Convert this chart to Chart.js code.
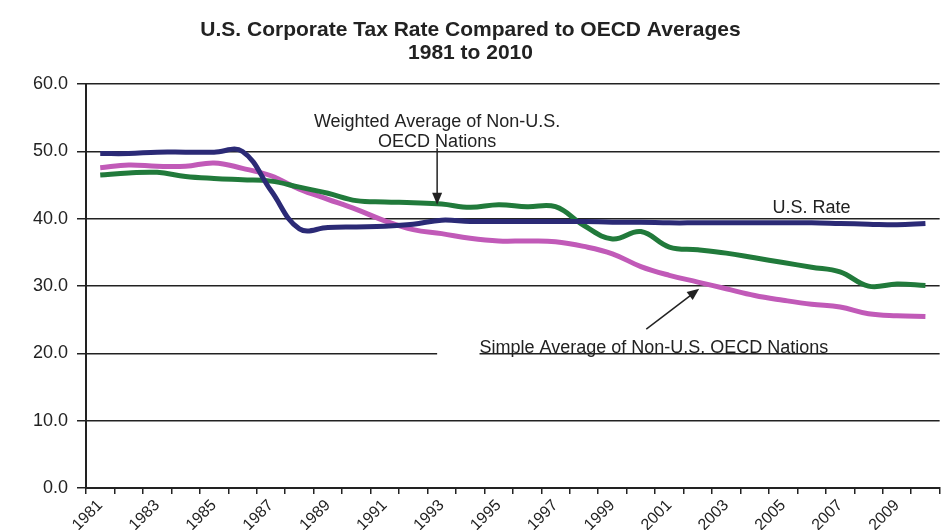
<!DOCTYPE html>
<html>
<head>
<meta charset="utf-8">
<script src="https://cdn.jsdelivr.net/npm/chart.js@4.4.0/dist/chart.umd.min.js"></script>
<style>
    html, body { margin: 0; padding: 0; background: #fff; }
</style>
</head>
<body>
<canvas id="tax-chart" width="941" height="530"></canvas>
<script>
const years = ["1981", "1982", "1983", "1984", "1985", "1986", "1987", "1988", "1989", "1990",
               "1991", "1992", "1993", "1994", "1995", "1996", "1997", "1998", "1999", "2000",
               "2001", "2002", "2003", "2004", "2005", "2006", "2007", "2008", "2009", "2010"];

// U.S. combined corporate rate
const usRate = [49.7, 49.7, 49.9, 49.9, 49.9, 50.0, 44.2, 38.5, 38.7, 38.8,
                38.9, 39.2, 39.8, 39.6, 39.6, 39.6, 39.6, 39.6, 39.5, 39.5,
                39.4, 39.4, 39.4, 39.4, 39.4, 39.4, 39.3, 39.2, 39.1, 39.3];

// weighted average of non-U.S. OECD nations
const weightedAvg = [46.5, 46.8, 46.9, 46.3, 46.0, 45.8, 45.6, 44.7, 43.8, 42.7,
                     42.5, 42.4, 42.2, 41.7, 42.1, 41.8, 41.8, 39.0, 37.0, 38.1,
                     35.8, 35.4, 34.9, 34.2, 33.5, 32.8, 32.1, 30.0, 30.3, 30.1];

// simple average of non-U.S. OECD nations
const simpleAvg = [47.6, 48.0, 47.8, 47.8, 48.3, 47.5, 46.4, 44.4, 42.9, 41.4,
                   39.7, 38.4, 37.8, 37.1, 36.7, 36.7, 36.6, 35.9, 34.8, 32.9,
                   31.6, 30.6, 29.6, 28.6, 27.9, 27.3, 26.9, 25.9, 25.6, 25.5];

const yTickValues = [0, 10, 20, 30, 40, 50, 60];

const FONT = '"Liberation Sans", Arial, Helvetica, sans-serif';
const INK = "#222";

function arrow(ctx, x1, y1, x2, y2) {
    const ang = Math.atan2(y2 - y1, x2 - x1);
    const len = 12, half = 5;
    ctx.beginPath();
    ctx.moveTo(x1, y1);
    ctx.lineTo(x2 - Math.cos(ang) * len * 0.8, y2 - Math.sin(ang) * len * 0.8);
    ctx.stroke();
    ctx.beginPath();
    ctx.moveTo(x2, y2);
    ctx.lineTo(x2 - Math.cos(ang) * len - Math.sin(ang) * half, y2 - Math.sin(ang) * len + Math.cos(ang) * half);
    ctx.lineTo(x2 - Math.cos(ang) * len + Math.sin(ang) * half, y2 - Math.sin(ang) * len - Math.cos(ang) * half);
    ctx.closePath();
    ctx.fill();
}

// text labels and arrows, placed in data units (category index, percent)
const notesPlugin = {
    id: "notes",
    afterDatasetsDraw(chart) {
        const ctx = chart.ctx;
        const px = v => chart.scales.x.getPixelForValue(v);
        const py = v => chart.scales.y.getPixelForValue(v);
        ctx.save();
        ctx.fillStyle = INK;
        ctx.strokeStyle = INK;
        ctx.lineWidth = 1.5;
        ctx.font = "18px " + FONT;
        ctx.textBaseline = "alphabetic";

        // weighted average label
        ctx.textAlign = "center";
        ctx.fillText("Weighted Average of Non-U.S.", px(11.84), py(53.6));
        ctx.fillText("OECD Nations", px(11.84), py(50.7));
        arrow(ctx, px(11.84), py(50.5), px(11.84), py(42.1));

        // U.S. rate label
        ctx.fillText("U.S. Rate", px(25.0), py(40.8));

        // simple average label (white patch over the gridline)
        ctx.fillStyle = "#fff";
        ctx.fillRect(px(11.84), py(23.5), px(13.33) - px(11.84), py(19.4) - py(23.5));
        ctx.fillStyle = INK;
        ctx.textAlign = "left";
        ctx.fillText("Simple Average of Non-U.S. OECD Nations", px(13.33), py(20.05));
        arrow(ctx, px(19.19), py(23.6), px(21.05), py(29.6));
        ctx.restore();
    }
};

const ctx_tax = document.getElementById("tax-chart").getContext("2d");
const tax_chart = new Chart(ctx_tax, {
    type: "line",
    data: {
        labels: years,
        datasets: [
            {
                label: "U.S. Rate",
                data: usRate,
                borderColor: "#2b2a76",
                borderWidth: 5,
            },
            {
                label: "Weighted Average of Non-U.S. OECD Nations",
                data: weightedAvg,
                borderColor: "#217a3b",
                borderWidth: 5,
            },
            {
                label: "Simple Average of Non-U.S. OECD Nations",
                data: simpleAvg,
                borderColor: "#c15ab8",
                borderWidth: 5,
            }
        ]
    },
    plugins: [notesPlugin],
    options: {
        responsive: false,
        animation: false,
        layout: { padding: 0 },
        elements: {
            point: { radius: 0 },
            line: { tension: 0.4 },
        },
        scales: {
            x: {
                offset: true,
                grid: {
                    offset: true,
                    drawOnChartArea: false,
                    drawTicks: true,
                    tickLength: 6,
                    color: INK,
                    lineWidth: 1.5,
                },
                border: { color: INK, width: 2 },
                ticks: {
                    autoSkip: false,
                    maxRotation: 45,
                    minRotation: 45,
                    color: INK,
                    font: { family: FONT, size: 16 },
                    padding: 2,
                    callback: function(val, index) {
                        return index % 2 === 0 ? years[index] : "";
                    },
                },
                afterFit: function(scale) { scale.height = 42; },
            },
            y: {
                min: 0,
                max: 60,
                afterBuildTicks: function(scale) {
                    scale.ticks = yTickValues.map(v => ({ value: v }));
                },
                grid: {
                    color: INK,
                    lineWidth: 1.5,
                    tickLength: 9,
                },
                border: { color: INK, width: 2 },
                ticks: {
                    color: INK,
                    padding: 9,
                    font: { family: FONT, size: 18 },
                    callback: v => v.toFixed(1),
                },
                afterFit: function(scale) { scale.width = 86; },
            }
        },
        plugins: {
            legend: { display: false },
            tooltip: { enabled: false },
            title: {
                display: true,
                text: ["U.S. Corporate Tax Rate Compared to OECD Averages", "1981 to 2010"],
                color: INK,
                font: { family: FONT, size: 21, weight: "bold", lineHeight: 1.1 },
                padding: { top: 19, bottom: 19 },
            },
        }
    }
});
</script>
</body>
</html>
